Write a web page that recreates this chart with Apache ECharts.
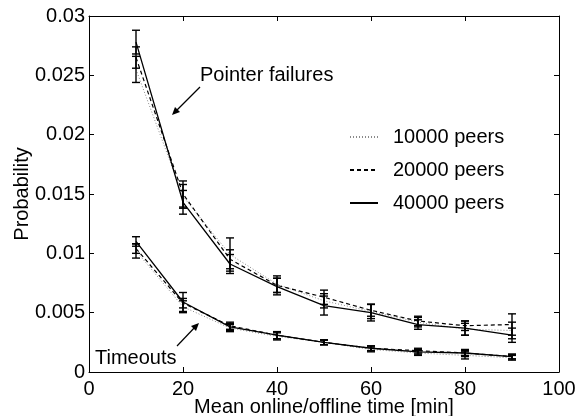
<!DOCTYPE html>
<html>
<head>
<meta charset="utf-8">
<script src="https://cdn.jsdelivr.net/npm/echarts@6/dist/echarts.min.js"></script>
<style>html,body{margin:0;padding:0;background:#fff}#c{width:579px;height:416px}</style>
</head>
<body>
<div id="c"></div>
<script>
const xs = [10, 20, 30, 40, 50, 60, 70, 80, 90];
const seriesNames = ['10000 peers', '20000 peers', '40000 peers'];
// Pointer failures
const pf10k = [0.0255, 0.0148, 0.0099, 0.0074, 0.0060, 0.0051, 0.0042, 0.0036, 0.0035];
const pf20k = [0.0265, 0.0150, 0.0095, 0.0073, 0.0063, 0.0052, 0.0043, 0.0039, 0.0040];
const pf40k = [0.0278, 0.0143, 0.0091, 0.0072, 0.0056, 0.0050, 0.0040, 0.0037, 0.0031];
const pf10kErr = [0.0011, 0.0010, 0.0014, 0.0007, 0.0006, 0.0006, 0.0004, 0.0005, 0.0007];
const pf20kErr = [0.0009, 0.0011, 0.0008, 0.0006, 0.0006, 0.0005, 0.0004, 0.0004, 0.0009];
const pf40kErr = [0.0010, 0.0010, 0.0008, 0.0007, 0.0008, 0.0007, 0.0004, 0.0006, 0.0006];
// Timeouts
const to10k = [0.0102, 0.0055, 0.0037, 0.0030, 0.0025, 0.0019, 0.0016, 0.0014, 0.0012];
const to20k = [0.0104, 0.0058, 0.0039, 0.0031, 0.0025, 0.0020, 0.0018, 0.0016, 0.0013];
const to40k = [0.0110, 0.0059, 0.0038, 0.0031, 0.0025, 0.0020, 0.0017, 0.0016, 0.0013];
const to10kErr = [0.0006, 0.0005, 0.0003, 0.0003, 0.0002, 0.0002, 0.0002, 0.0003, 0.0002];
const to20kErr = [0.0004, 0.0004, 0.0003, 0.0003, 0.0002, 0.0002, 0.0002, 0.0002, 0.0002];
const to40kErr = [0.0004, 0.0008, 0.0003, 0.0003, 0.0002, 0.0002, 0.0002, 0.0003, 0.0002];

const FONT = '"Liberation Sans", Arial, sans-serif';
const FS = 20;
const styles = [
  {type: [1, 2], color: '#8a8a8a', width: 1},
  {type: [4, 3], color: '#000', width: 1.2},
  {type: 'solid', color: '#000', width: 1.3}
];

function lineSeries(name, vals, st) {
  return {
    name: name, type: 'line', data: xs.map((x, i) => [x, vals[i]]),
    symbol: 'none', lineStyle: {type: st.type, color: st.color, width: st.width},
    itemStyle: {color: st.color}, z: 3, animation: false
  };
}
function errSeries(vals, errs) {
  return {
    type: 'custom', z: 4, animation: false, silent: true,
    data: xs.map((x, i) => [x, vals[i] - errs[i], vals[i] + errs[i]]),
    renderItem: function (params, api) {
      const lo = api.coord([api.value(0), api.value(1)]);
      const hi = api.coord([api.value(0), api.value(2)]);
      const w = 4;
      const st = {stroke: '#000', lineWidth: 1.4};
      return {type: 'group', children: [
        {type: 'line', shape: {x1: lo[0], y1: lo[1], x2: hi[0], y2: hi[1]}, style: st},
        {type: 'line', shape: {x1: lo[0] - w, y1: lo[1], x2: lo[0] + w, y2: lo[1]}, style: st},
        {type: 'line', shape: {x1: hi[0] - w, y1: hi[1], x2: hi[0] + w, y2: hi[1]}, style: st}
      ]};
    }
  };
}

const chart = echarts.init(document.getElementById('c'), null, {renderer: 'canvas'});
const axisLine = {show: true, onZero: false, lineStyle: {color: '#000', width: 1}};
const tickIn = {show: true, inside: true, length: 5, lineStyle: {color: '#000'}};
const lblFont = {color: '#000', fontSize: FS, fontFamily: FONT};

chart.setOption({
  animation: false,
  backgroundColor: '#fff',
  grid: {left: 89, right: 20, top: 16, bottom: 44, outerBoundsMode: 'none', containLabel: false},
  legend: {
    orient: 'vertical', left: 349, top: 127, itemGap: 13, itemWidth: 28, itemHeight: 20,
    data: seriesNames, padding: 0,
    itemStyle: {opacity: 0},
    textStyle: {color: '#000', fontSize: FS, fontFamily: FONT, padding: [0, 0, 0, 10]},
    selectedMode: false
  },
  xAxis: [
    {type: 'value', min: 0, max: 100, interval: 20, position: 'bottom',
     axisLine: axisLine, axisTick: tickIn, splitLine: {show: false},
     axisLabel: Object.assign({margin: 7}, lblFont),
     name: 'Mean online/offline time [min]', nameLocation: 'middle', nameGap: 25,
     nameMoveOverlap: false,
     nameTextStyle: {color: '#000', fontSize: FS, fontFamily: FONT}},
    {type: 'value', min: 0, max: 100, interval: 20, position: 'top',
     axisLine: axisLine, axisTick: tickIn, splitLine: {show: false}, axisLabel: {show: false}}
  ],
  yAxis: [
    {type: 'value', min: 0, max: 0.03, interval: 0.005, position: 'left',
     axisLine: axisLine, axisTick: tickIn, splitLine: {show: false},
     axisLabel: Object.assign({margin: 4, formatter: v => String(parseFloat(v.toFixed(3)))}, lblFont),
     name: 'Probability', nameLocation: 'middle', nameGap: 57, nameRotate: 90,
     nameMoveOverlap: false,
     nameTextStyle: {color: '#000', fontSize: FS, fontFamily: FONT}},
    {type: 'value', min: 0, max: 0.03, interval: 0.005, position: 'right',
     axisLine: axisLine, axisTick: tickIn, splitLine: {show: false}, axisLabel: {show: false}}
  ],
  series: [
    lineSeries(seriesNames[0], pf10k, styles[0]),
    lineSeries(seriesNames[1], pf20k, styles[1]),
    lineSeries(seriesNames[2], pf40k, styles[2]),
    lineSeries(seriesNames[0], to10k, styles[0]),
    lineSeries(seriesNames[1], to20k, styles[1]),
    lineSeries(seriesNames[2], to40k, styles[2]),
    errSeries(pf10k, pf10kErr), errSeries(pf20k, pf20kErr), errSeries(pf40k, pf40kErr),
    errSeries(to10k, to10kErr), errSeries(to20k, to20kErr), errSeries(to40k, to40kErr)
  ],
  graphic: [
    {type: 'text', x: 200, y: 75, style: {text: 'Pointer failures', fill: '#000', font: FS + 'px ' + FONT, verticalAlign: 'middle'}},
    {type: 'line', shape: {x1: 200, y1: 87, x2: 174, y2: 113}, style: {stroke: '#000', lineWidth: 1.2}},
    {type: 'polygon', shape: {points: [[172, 115], [175, 107], [180, 112]]}, style: {fill: '#000'}},
    {type: 'text', x: 95, y: 358, style: {text: 'Timeouts', fill: '#000', font: FS + 'px ' + FONT, verticalAlign: 'middle'}},
    {type: 'line', shape: {x1: 177, y1: 346, x2: 197, y2: 325}, style: {stroke: '#000', lineWidth: 1.2}},
    {type: 'polygon', shape: {points: [[199, 323], [191, 326], [196, 331]]}, style: {fill: '#000'}}
  ]
});
</script>
</body>
</html>
